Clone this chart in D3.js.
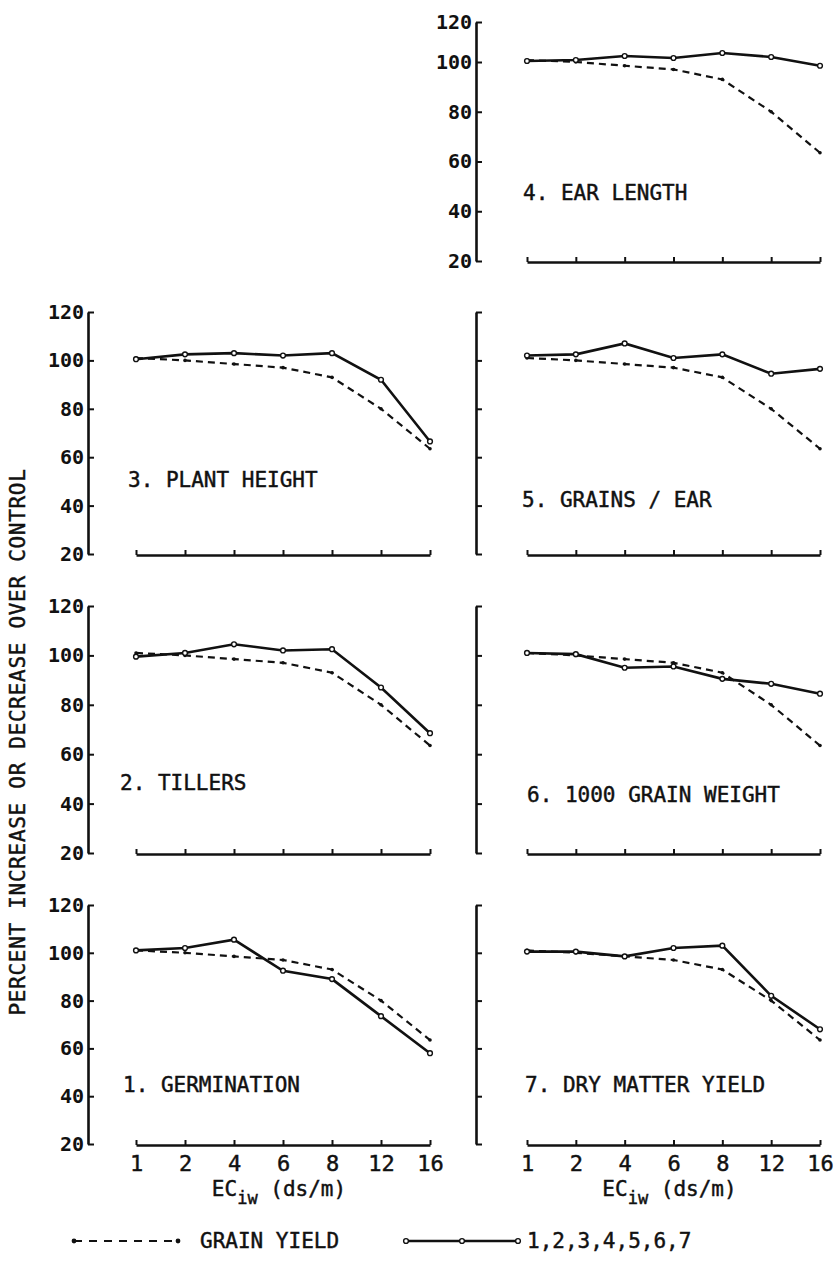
<!DOCTYPE html>
<html>
<head>
<meta charset="utf-8">
<script src="https://cdn.jsdelivr.net/npm/d3@7"></script>
<style>
  body { margin: 0; background: #fff; }
  text { font-family: "DejaVu Sans Mono", monospace; fill: #111; }
  .heavy { stroke: #111; stroke-width: 0.45; }
</style>
</head>
<body>
<svg id="chart" width="840" height="1263"></svg>
<script>
// EC of irrigation water (ds/m), plotted as evenly spaced categories
const categories = ["1", "2", "4", "6", "8", "12", "16"];
const yTicks = [20, 40, 60, 80, 100, 120];

// percent of control
const grainYield   = [101, 100, 98.5, 97, 93, 80, 63.5];
const germination  = [101, 102, 105.5, 92.5, 89, 73.5, 58];
const tillers      = [99.5, 101, 104.5, 102, 102.5, 87, 68.5];
const plantHeight  = [100.5, 102.5, 103, 102, 103, 92, 66.5];
const earLength    = [100.5, 101, 103, 102, 104.5, 102.5, 98.5];
const grainsPerEar = [102, 102.5, 107, 101, 102.5, 94.5, 96.5];
const grainWeight  = [101, 100.5, 95, 95.5, 90.5, 88.5, 84.5];
const dryMatter    = [100.5, 100.5, 98.5, 102, 103, 82, 68];

const panelLabels = ["1. GERMINATION", "2. TILLERS", "3. PLANT HEIGHT", "4. EAR LENGTH",
                     "5. GRAINS / EAR", "6. 1000 GRAIN WEIGHT", "7. DRY MATTER YIELD"];
const legendLabels = ["GRAIN YIELD", "1,2,3,4,5,6,7"];

const svg = d3.select("#chart");

// two columns, four rows (top row only has the right panel)
const cols = [
  { axisX: 88,  x0: 136, x1: 430 },
  { axisX: 476, x0: 527, x1: 820 }
];
const rows = [
  { domain: [20, 100, 120], range: [261, 62, 22] },
  { domain: [20, 120], range: [554, 312] },
  { domain: [20, 120], range: [853, 606] },
  { domain: [20, 120], range: [1144, 905] }
];

const panels = [
  { n: 3, data: earLength,    col: 1, row: 0, yLab: true,  xLab: false, lx: 523, ly: 193 },
  { n: 2, data: plantHeight,  col: 0, row: 1, yLab: true,  xLab: false, lx: 128, ly: 480 },
  { n: 4, data: grainsPerEar, col: 1, row: 1, yLab: false, xLab: false, lx: 522, ly: 500 },
  { n: 1, data: tillers,      col: 0, row: 2, yLab: true,  xLab: false, lx: 120, ly: 783 },
  { n: 5, data: grainWeight,  col: 1, row: 2, yLab: false, xLab: false, lx: 527, ly: 795 },
  { n: 0, data: germination,  col: 0, row: 3, yLab: true,  xLab: true,  lx: 123, ly: 1085 },
  { n: 6, data: dryMatter,    col: 1, row: 3, yLab: false, xLab: true,  lx: 525, ly: 1085 }
];

panels.forEach(p => {
  const c = cols[p.col];
  const x = d3.scalePoint().domain(categories).range([c.x0, c.x1]);
  const y = d3.scaleLinear().domain(rows[p.row].domain).range(rows[p.row].range);
  const g = svg.append("g");

  // y axis, ticks pointing inwards
  const yAxis = d3.axisLeft(y).tickValues(yTicks).tickSize(-6).tickSizeOuter(0).tickPadding(4);
  if (!p.yLab) yAxis.tickFormat("");
  const ya = g.append("g").attr("transform", `translate(${c.axisX},0)`).call(yAxis);
  ya.select(".domain").attr("stroke", "#111").attr("stroke-width", 2.6);
  ya.selectAll(".tick line").attr("stroke", "#111").attr("stroke-width", 2);
  ya.selectAll(".tick text").attr("font-size", 20).attr("font-weight", "bold")
    .attr("font-family", "DejaVu Sans Mono").attr("fill", "#111");

  // baseline at 20 with small upward ticks
  const xa = g.append("g").attr("transform", `translate(0,${y(20) + 1})`)
    .call(d3.axisTop(x).tickSize(5).tickSizeOuter(0).tickFormat(""));
  xa.select(".domain").attr("stroke", "#111").attr("stroke-width", 2.6);
  xa.selectAll(".tick line").attr("stroke", "#111").attr("stroke-width", 2);

  if (p.xLab) {
    const xl = g.append("g").attr("transform", `translate(0,${y(20)})`)
      .call(d3.axisBottom(x).tickSize(0).tickPadding(11));
    xl.select(".domain").remove();
    xl.selectAll(".tick text").attr("font-size", 22).attr("font-family", "DejaVu Sans Mono")
      .attr("fill", "#111").attr("class", "heavy");

    const t = g.append("text")
      .attr("class", "heavy")
      .attr("x", (c.x0 + c.x1) / 2 - 4)
      .attr("y", y(20) + 52)
      .attr("text-anchor", "middle")
      .attr("font-size", 21);
    t.append("tspan").text("EC");
    t.append("tspan").attr("font-size", 17).attr("dy", 8).text("iw");
    t.append("tspan").attr("dy", -8).text(" (ds/m)");
  }

  const line = d3.line().x((d, i) => x(categories[i])).y(d => y(d));

  g.append("path").datum(grainYield)
    .attr("fill", "none").attr("stroke", "#111").attr("stroke-width", 2.2)
    .attr("stroke-dasharray", "7,5").attr("d", line);
  g.selectAll(".gy").data(grainYield).enter().append("circle")
    .attr("cx", (d, i) => x(categories[i])).attr("cy", d => y(d))
    .attr("r", 1.8).attr("fill", "#111");

  g.append("path").datum(p.data)
    .attr("fill", "none").attr("stroke", "#111").attr("stroke-width", 2.6).attr("d", line);
  g.selectAll(".pt").data(p.data).enter().append("circle")
    .attr("cx", (d, i) => x(categories[i])).attr("cy", d => y(d))
    .attr("r", 2.4).attr("fill", "#fff").attr("stroke", "#111").attr("stroke-width", 1.4);

  g.append("text")
    .attr("class", "heavy")
    .attr("x", p.lx).attr("y", p.ly)
    .attr("dominant-baseline", "central")
    .attr("font-size", 21)
    .text(panelLabels[p.n]);
});

// y title
svg.append("text")
  .attr("class", "heavy")
  .attr("transform", "rotate(-90)")
  .attr("x", -742).attr("y", 18)
  .attr("text-anchor", "middle")
  .attr("dominant-baseline", "central")
  .attr("font-size", 21)
  .attr("letter-spacing", 0.7)
  .text("PERCENT INCREASE OR DECREASE OVER CONTROL");

// legend
const ly = 1241;
svg.append("line").attr("x1", 74).attr("x2", 178).attr("y1", ly).attr("y2", ly)
  .attr("stroke", "#111").attr("stroke-width", 2.2).attr("stroke-dasharray", "8,7");
[74, 178].forEach(cx => svg.append("circle").attr("cx", cx).attr("cy", ly).attr("r", 2.4).attr("fill", "#111"));
svg.append("text").attr("class", "heavy").attr("x", 200).attr("y", ly).attr("dominant-baseline", "central")
  .attr("font-size", 21).text(legendLabels[0]);

svg.append("line").attr("x1", 406).attr("x2", 518).attr("y1", ly).attr("y2", ly)
  .attr("stroke", "#111").attr("stroke-width", 2.6);
[406, 462, 518].forEach(cx => svg.append("circle").attr("cx", cx).attr("cy", ly).attr("r", 2.4)
  .attr("fill", "#fff").attr("stroke", "#111").attr("stroke-width", 1.4));
svg.append("text").attr("class", "heavy").attr("x", 527).attr("y", ly).attr("dominant-baseline", "central")
  .attr("font-size", 21).text(legendLabels[1]);
</script>
</body>
</html>
